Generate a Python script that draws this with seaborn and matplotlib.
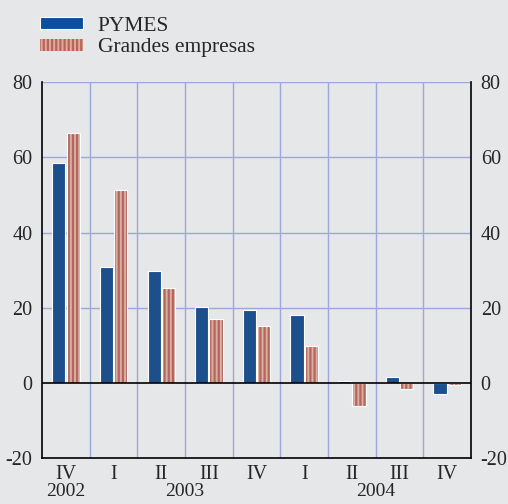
import matplotlib
matplotlib.use("Agg")
import matplotlib.pyplot as plt
import matplotlib.transforms as mtransforms
from matplotlib.patches import Patch
import pandas as pd
import seaborn as sns

# data
quarters = ["IV", "I", "II", "III", "IV", "I", "II", "III", "IV"]
years = ["2002", "2003", "2004"]
year_spans = [(0, 0), (1, 4), (5, 8)]
pymes = [58.6, 30.8, 29.7, 20.2, 19.4, 18.0, 0.6, 1.6, -2.9]
grandes = [66.6, 51.2, 25.2, 17.0, 15.1, 9.8, -6.1, -1.5, -0.5]

series = ["PYMES", "Grandes empresas"]
rows = []
for i, q in enumerate(quarters):
    rows.append({"pos": i, "serie": series[0], "valor": pymes[i]})
    rows.append({"pos": i, "serie": series[1], "valor": grandes[i]})
df = pd.DataFrame(rows)

bg = "#e6e7e9"
blue = "#0a4f9e"
salmon_light = "#e2aa9c"
salmon_dark = "#b5665a"
grid_col = "#9ba8d8"

sns.set_style("white")
plt.rcParams["font.family"] = ["Liberation Serif", "DejaVu Serif"]
plt.rcParams["hatch.linewidth"] = 1.6
plt.rcParams["axes.unicode_minus"] = False

fig = plt.figure(figsize=(5.08, 5.04), dpi=100, facecolor=bg)
ax = fig.add_axes([0.083, 0.091, 0.844, 0.746])
ax.set_facecolor(bg)

sns.barplot(data=df, x="pos", y="valor", hue="serie", hue_order=series,
            palette=[blue, salmon_light], width=0.6, gap=0.08,
            native_scale=True, legend=False, ax=ax, zorder=3,
            edgecolor="white", linewidth=0.8)

for p in ax.containers[1]:
    p.set_hatch("||||")
    p.set_edgecolor(salmon_dark)
    p.set_linewidth(0)
# white outline on top of the hatched bars
for p in ax.containers[1]:
    r = plt.Rectangle(p.get_xy(), p.get_width(), p.get_height(), fill=False,
                      edgecolor="white", linewidth=0.8, zorder=4)
    ax.add_patch(r)

ax.set_xlim(-0.5, len(quarters) - 0.5)
ax.set_ylim(-20, 80)

# grid
for y in [20, 40, 60, 80]:
    ax.axhline(y, color=grid_col, lw=1, zorder=1)
for x in range(len(quarters) - 1):
    ax.axvline(x + 0.5, color=grid_col, lw=1, zorder=1)
ax.axhline(0, color="black", lw=1.2, zorder=5)

# spines
for s in ["left", "right", "bottom"]:
    ax.spines[s].set_visible(True)
    ax.spines[s].set_color("black")
    ax.spines[s].set_linewidth(1.2)
ax.spines["top"].set_visible(False)

# y ticks both sides
ax.set_yticks([-20, 0, 20, 40, 60, 80])
ax.tick_params(axis="y", which="both", length=0, labelsize=14.5, pad=7,
               left=False, right=False, labelleft=True, labelright=True)

# x: bracket ticks at boundaries, labels at centres
ax.set_xticks([x - 0.5 for x in range(len(quarters) + 1)])
ax.set_xticklabels([])
ax.tick_params(axis="x", which="major", length=5, width=1.2, color="black",
               direction="out")
ax.set_xticks(list(range(len(quarters))), minor=True)
ax.set_xticklabels(quarters, minor=True)
ax.tick_params(axis="x", which="minor", length=0, labelsize=14.5, pad=5)
ax.set_xlabel("")
ax.set_ylabel("")

trans = mtransforms.blended_transform_factory(ax.transData, ax.transAxes)
for yr, (a, b) in zip(years, year_spans):
    ax.text((a + b) / 2, -0.102, yr, transform=trans, ha="center", va="baseline",
            fontsize=14)

handles = [Patch(facecolor=blue, edgecolor="white", lw=0.8),
           Patch(facecolor=salmon_light, edgecolor=salmon_dark, hatch="||||", lw=0)]
fig.legend(handles, series, loc="upper left", bbox_to_anchor=(0.04, 1.005),
           frameon=False, fontsize=15.5, handlelength=2.0, handleheight=0.45,
           labelspacing=0.12, handletextpad=0.7)

fig.savefig("out.png", dpi=100, facecolor=bg)
